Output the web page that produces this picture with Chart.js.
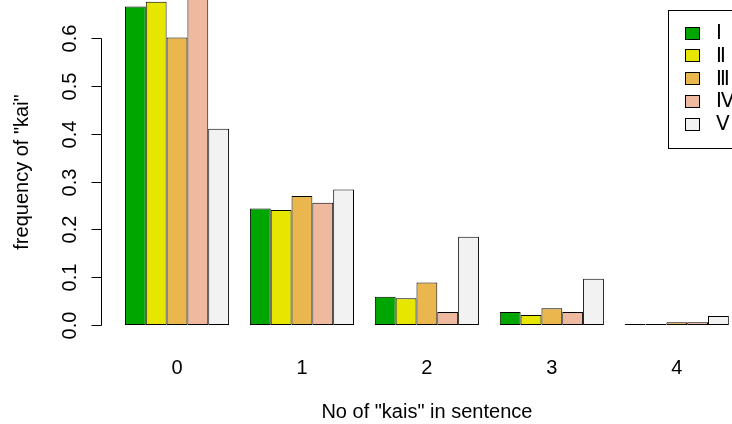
<!DOCTYPE html>
<html>
<head>
<meta charset="utf-8">
<title>frequency of "kai"</title>
<script src="https://cdn.jsdelivr.net/npm/chart.js@4.4.1/dist/chart.umd.min.js"></script>
<style>
  html, body { margin: 0; padding: 0; background: #fff; overflow: hidden; }
  #wrap { width: 780px; height: 424px; }
</style>
</head>
<body>
<div id="wrap"><canvas id="kaiChart" width="780" height="424"></canvas></div>
<script>
// categories: number of "kais" in a sentence
const xLabels = ['0', '1', '2', '3', '4'];

// one series per text group
const seriesNames = ['Ⅰ', 'Ⅱ', 'Ⅲ', 'Ⅳ', 'Ⅴ'];
const seriesColors = ['#00A600', '#E6E600', '#EAB64E', '#EEB99F', '#F2F2F2'];

const freqI   = [0.667, 0.244, 0.059, 0.027, 0.002];
const freqII  = [0.677, 0.241, 0.056, 0.021, 0.002];
const freqIII = [0.602, 0.270, 0.089, 0.035, 0.006];
const freqIV  = [0.684, 0.256, 0.027, 0.027, 0.006];
const freqV   = [0.411, 0.284, 0.185, 0.097, 0.019];

// y axis ticks
const yTicks = [0, 0.1, 0.2, 0.3, 0.4, 0.5, 0.6];
const yTickLabels = ['0.0', '0.1', '0.2', '0.3', '0.4', '0.5', '0.6'];

const xTitle = 'No of "kais" in sentence';
const yTitle = 'frequency of "kai"';

const FONT = "'Liberation Sans', Arial, sans-serif";
Chart.defaults.font.family = FONT;
Chart.defaults.font.size = 20;
Chart.defaults.color = '#000';

const allSeries = [freqI, freqII, freqIII, freqIV, freqV];

// R style y axis (line only between first and last tick, rotated labels) + boxed legend
const rStylePlugin = {
    id: 'rStyle',
    afterDraw(chart) {
        const ctx = chart.ctx;
        const yScale = chart.scales.y;
        const x0 = Math.round(chart.chartArea.left) + 0.5;

        ctx.save();
        ctx.strokeStyle = '#000';
        ctx.lineWidth = 1;
        ctx.fillStyle = '#000';
        ctx.font = '20px ' + FONT;

        // axis line
        const yTop = Math.round(yScale.getPixelForValue(yTicks[yTicks.length - 1])) + 0.5;
        const yBottom = Math.round(yScale.getPixelForValue(yTicks[0])) + 0.5;
        ctx.beginPath();
        ctx.moveTo(x0, yBottom);
        ctx.lineTo(x0, yTop);
        ctx.stroke();

        // ticks and labels
        yTicks.forEach((v, i) => {
            const py = Math.round(yScale.getPixelForValue(v)) + 0.5;
            ctx.beginPath();
            ctx.moveTo(x0 - 10, py);
            ctx.lineTo(x0, py);
            ctx.stroke();

            ctx.save();
            ctx.translate(70.5, py);
            ctx.rotate(-Math.PI / 2);
            ctx.textAlign = 'center';
            ctx.textBaseline = 'middle';
            ctx.fillText(yTickLabels[i], 0, 0);
            ctx.restore();
        });

        // axis title
        ctx.save();
        ctx.translate(22.5, 172);
        ctx.rotate(-Math.PI / 2);
        ctx.textAlign = 'center';
        ctx.textBaseline = 'middle';
        ctx.fillText(yTitle, 0, 0);
        ctx.restore();

        // legend box (runs off the right edge like the original)
        ctx.fillStyle = '#fff';
        ctx.fillRect(668.5, 10.5, 200, 138);
        ctx.strokeRect(668.5, 10.5, 200, 138);
        chart.data.datasets.forEach((ds, i) => {
            const cy = 32.5 + i * 22.8;
            ctx.fillStyle = ds.backgroundColor;
            ctx.fillRect(685.5, Math.round(cy - 6) + 0.5, 14, 12);
            ctx.strokeRect(685.5, Math.round(cy - 6) + 0.5, 14, 12);
            ctx.fillStyle = '#000';
            ctx.textAlign = 'left';
            ctx.textBaseline = 'middle';
            ctx.fillText(ds.label, 715.5, cy + 1);
        });

        ctx.restore();
    }
};

const kaiChart = new Chart(document.getElementById('kaiChart'), {
    type: 'bar',
    data: {
        datasets: allSeries.map((vals, i) => ({
            label: seriesNames[i],
            data: vals.map((v, j) => ({ x: j, y: v })),
            backgroundColor: seriesColors[i],
            borderColor: '#000',
            borderWidth: 1,
            borderSkipped: false,
            barPercentage: 1,
            categoryPercentage: 5 / 6
        }))
    },
    options: {
        responsive: false,
        animation: false,
        devicePixelRatio: 1,
        layout: { padding: { left: 0, right: 27, top: 0, bottom: 0 } },
        plugins: {
            legend: { display: false },
            tooltip: { enabled: false }
        },
        scales: {
            x: {
                type: 'linear',
                offset: false,
                min: -0.61,
                max: 4.61,
                grid: { display: false, drawTicks: false, offset: false },
                border: { display: false },
                afterBuildTicks: (scale) => {
                    scale.ticks = xLabels.map((l, i) => ({ value: i }));
                },
                ticks: {
                    padding: 31,
                    maxRotation: 0,
                    callback: (value) => xLabels[value]
                },
                title: { display: true, text: xTitle, padding: 0 },
                afterFit: (scale) => { scale.height = 99; }
            },
            y: {
                min: 0,
                max: 0.6806,
                grid: { display: false, drawTicks: false },
                border: { display: false },
                ticks: { display: false },
                afterFit: (scale) => { scale.width = 100.8; }
            }
        }
    },
    plugins: [rStylePlugin]
});
</script>
</body>
</html>
